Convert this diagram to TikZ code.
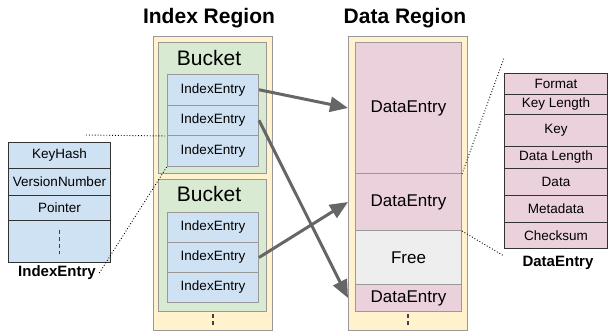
\documentclass[tikz,border=0pt]{standalone}
\usepackage{fontspec}
\setmainfont{Liberation Sans}
\usetikzlibrary{arrows.meta,positioning,calc}
\definecolor{regYellow}{HTML}{FFF2CC}
\definecolor{bkGreen}{HTML}{D9EAD3}
\definecolor{ieBlue}{HTML}{CFE2F3}
\definecolor{dePink}{HTML}{EAD1DC}
\definecolor{freeGray}{HTML}{EEEEEE}
\definecolor{lineGray}{HTML}{999999}
\definecolor{arrGray}{HTML}{666666}

\begin{document}
\begin{tikzpicture}[x=1pt,y=-1pt,
    region/.style={draw=lineGray,fill=regYellow,line width=1.2pt,anchor=north west,minimum width=119,minimum height=294,inner sep=0},
    bucket/.style={draw=lineGray,fill=bkGreen,line width=1pt,anchor=north west,minimum width=108,inner sep=0},
    ie/.style={draw=lineGray,fill=ieBlue,line width=1pt,anchor=north west,minimum width=91,minimum height=30.5,inner sep=0,font=\fontsize{13.5}{15}\selectfont},
    de/.style={draw=lineGray,fill=dePink,line width=1pt,anchor=north west,minimum width=106,inner sep=0,font=\fontsize{17}{19}\selectfont},
    row/.style={draw=black!80,line width=1pt,anchor=north west,inner sep=0,font=\fontsize{13.5}{15}\selectfont},
    title/.style={font=\fontsize{21}{24}\bfseries\selectfont},
    caplabel/.style={font=\fontsize{15}{17}\bfseries\selectfont},
    arr/.style={-{Triangle[length=18pt,width=15pt]},arrGray,line width=3pt},
    zoomline/.style={dotted,line width=0.9pt},
    more/.style={dash pattern=on 4pt off 3pt,line width=1.4pt,black!75}]
    \useasboundingbox (0,0) rectangle (608,333);
    % regions
    \node[title] (ititle) at (209,18) {Index Region};
    \node[title] (dtitle) at (405,18) {Data Region};
    \node[region] (ireg) at (153,36) {};
    \node[region] (dreg) at (348,36) {};
    % buckets
    \node[bucket,minimum height=131] (bk1) at (158,42) {};
    \node[bucket,minimum height=132] (bk2) at (158,179) {};
    \node[font=\fontsize{21}{24}\selectfont] (bl1) at (209,58) {Bucket};
    \node[font=\fontsize{21}{24}\selectfont] (bl2) at (209,194) {Bucket};
    \node[ie] (ie11) at (167,74) {IndexEntry};
    \node[ie] (ie12) at (167,104.5) {IndexEntry};
    \node[ie] (ie13) at (167,135) {IndexEntry};
    \node[ie,minimum height=30] (ie21) at (167,212) {IndexEntry};
    \node[ie,minimum height=30] (ie22) at (167,242) {IndexEntry};
    \node[ie,minimum height=30] (ie23) at (167,272) {IndexEntry};
    \draw[more] ($(ireg.south)+(0,-17)$) -- ($(ireg.south)+(0,-4)$);
    % data entries
    \node[de,minimum height=131] (de1) at (355,42) {DataEntry};
    \node[de,minimum height=57] (de2) at (355,173) {DataEntry};
    \node[de,fill=freeGray,minimum height=54] (fr) at (355,230) {Free};
    \node[de,minimum height=27] (de3) at (355,284) {DataEntry};
    \draw[more] ($(dreg.south)+(0,-17)$) -- ($(dreg.south)+(0,-4)$);
    % pointers
    \draw[arr] (ie11.east) -- (dreg.west |- de1.west);
    \draw[arr] (ie12.east) -- (dreg.west |- de3.west);
    \draw[arr] (ie22.east) -- (dreg.west |- de2.west);
    % IndexEntry layout
    \node[row,fill=ieBlue,minimum width=102,minimum height=26] (kh) at (8,142) {KeyHash};
    \node[row,fill=ieBlue,minimum width=102,minimum height=27] (vn) at (8,168) {VersionNumber};
    \node[row,fill=ieBlue,minimum width=102,minimum height=25] (ptr) at (8,195) {Pointer};
    \node[row,fill=ieBlue,minimum width=102,minimum height=42] (idots) at (8,220) {};
    \draw[more] ($(idots.center)+(0,-12)$) -- ($(idots.center)+(0,12)$);
    \node[caplabel] (iecap) at (57,273) {IndexEntry};
    \coordinate (iz) at (86,135);
    \draw[zoomline] (iz) -- (ie12.south west);
    \draw[zoomline] (iecap.east) -- (ie13.south west);
    % DataEntry layout
    \node[row,fill=dePink,minimum width=103,minimum height=21] (fmt) at (504,73) {Format};
    \node[row,fill=dePink,minimum width=103,minimum height=20] (kl) at (504,94) {Key Length};
    \node[row,fill=dePink,minimum width=103,minimum height=32] (key) at (504,114) {Key};
    \node[row,fill=dePink,minimum width=103,minimum height=22] (dl) at (504,146) {Data Length};
    \node[row,fill=dePink,minimum width=103,minimum height=27] (dat) at (504,168) {Data};
    \node[row,fill=dePink,minimum width=103,minimum height=27] (md) at (504,195) {Metadata};
    \node[row,fill=dePink,minimum width=103,minimum height=26] (cs) at (504,222) {Checksum};
    \node[caplabel] (decap) at (558,263) {DataEntry};
    \coordinate (dz1) at (504,58);
    \coordinate (dz2) at (504,256);
    \draw[zoomline] (de1.south east) -- (dz1);
    \draw[zoomline] (de2.south east) -- (dz2);
\end{tikzpicture}
\end{document}
